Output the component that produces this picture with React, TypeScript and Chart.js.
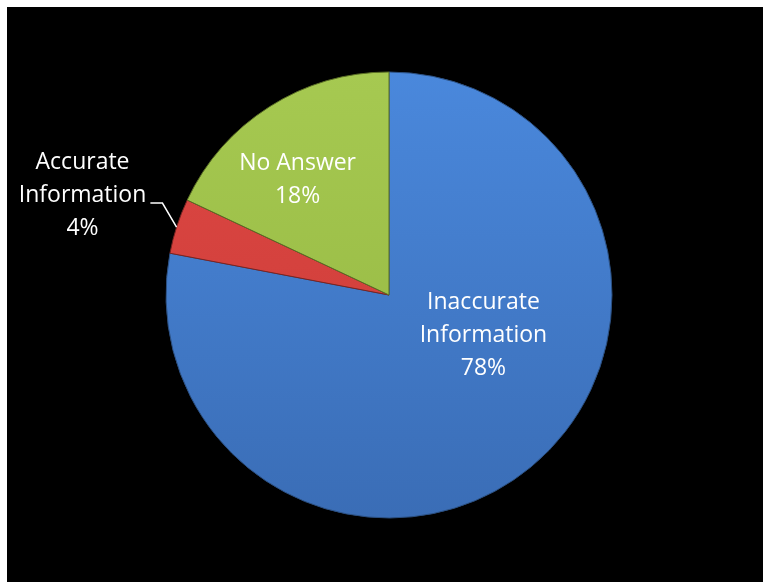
import React, { useEffect, useRef } from "react";
import { Chart, registerables } from "chart.js";

Chart.register(...registerables);

const categories: string[][] = [
  ["Inaccurate", "Information"],
  ["Accurate", "Information"],
  ["No Answer"],
];
const values: number[] = [78, 4, 18];
// [top colour, bottom colour] per slice
const colorTop: string[] = ["#4a88dc", "#de4844", "#a6c951"];
const colorBottom: string[] = ["#3a6db6", "#c93a36", "#93b540"];
const borderColors: string[] = ["#2b4f80", "#7a2422", "#5a6e25"];

// label placement: [angle deg clockwise from top, distance as fraction of radius]
const labelPlacement: [number, number][] = [
  [113, 0.46],
  [288, 1.445],
  [321.6, 0.66],
];

const FONT = "23px 'Open Sans'";
const LINE_H = 33;

function polar(cx: number, cy: number, ang: number, d: number) {
  const a = (ang * Math.PI) / 180;
  return { x: cx + Math.sin(a) * d, y: cy - Math.cos(a) * d };
}

const labelPlugin = {
  id: "pieLabels",
  afterDatasetsDraw(chart: any) {
    const ctx: any = chart.ctx;
    const meta = chart.getDatasetMeta(0);
    const data = chart.data.datasets[0].data as number[];
    const total = data.reduce((a, b) => a + b, 0);
    ctx.save();
    ctx.font = FONT;
    ctx.fillStyle = "#ffffff";
    ctx.textAlign = "center";
    ctx.textBaseline = "middle";
    meta.data.forEach((arc: any, i: number) => {
      const { x, y, outerRadius } = arc.getProps(["x", "y", "outerRadius"], true);
      const [ang, frac] = labelPlacement[i];
      const p = polar(x, y, ang, outerRadius * frac);
      const lines = [...categories[i], Math.round((data[i] / total) * 100) + "%"];
      const top = p.y - ((lines.length - 1) * LINE_H) / 2;
      lines.forEach((t, k) => ctx.fillText(t, p.x, top + k * LINE_H));
      if (frac > 1) {
        // leader line
        const start = polar(x, y, 287.7, outerRadius * 1.0);
        const elbow = { x: x - outerRadius * 1.016, y: y - outerRadius * 0.412 };
        const end = { x: x - outerRadius * 1.07, y: elbow.y };
        ctx.strokeStyle = "#ffffff";
        ctx.lineWidth = 1.5;
        ctx.beginPath();
        ctx.moveTo(start.x, start.y);
        ctx.lineTo(elbow.x, elbow.y);
        ctx.lineTo(end.x, end.y);
        ctx.stroke();
      }
    });
    ctx.restore();
  },
};

export default function App() {
  const ref = useRef<HTMLCanvasElement>(null);
  useEffect(() => {
    if (!ref.current) return;
    const chart = new Chart(ref.current, {
      type: "pie",
      data: {
        labels: categories.map((c) => c.join(" ")),
        datasets: [
          {
            data: values,
            backgroundColor: (c: any) => {
              const area = c.chart.chartArea;
              if (!area) return colorTop[c.dataIndex];
              const g = c.chart.ctx.createLinearGradient(0, area.top, 0, area.bottom);
              g.addColorStop(0, colorTop[c.dataIndex]);
              g.addColorStop(1, colorBottom[c.dataIndex]);
              return g;
            },
            borderColor: borderColors,
            borderWidth: 1,
          },
        ],
      },
      options: {
        responsive: false,
        animation: false,
        layout: { padding: { left: 158.5, right: 150.5, top: 64.5, bottom: 63.5 } },
        plugins: { legend: { display: false }, tooltip: { enabled: false } },
      },
      plugins: [labelPlugin],
    });
    return () => chart.destroy();
  }, []);
  return (
    <div
      style={{
        position: "absolute",
        left: 7,
        top: 7,
        width: 756,
        height: 575,
        background: "#000",
      }}
    >
      <canvas ref={ref} width={756} height={575} style={{ width: 756, height: 575, display: "block" }} />
    </div>
  );
}
